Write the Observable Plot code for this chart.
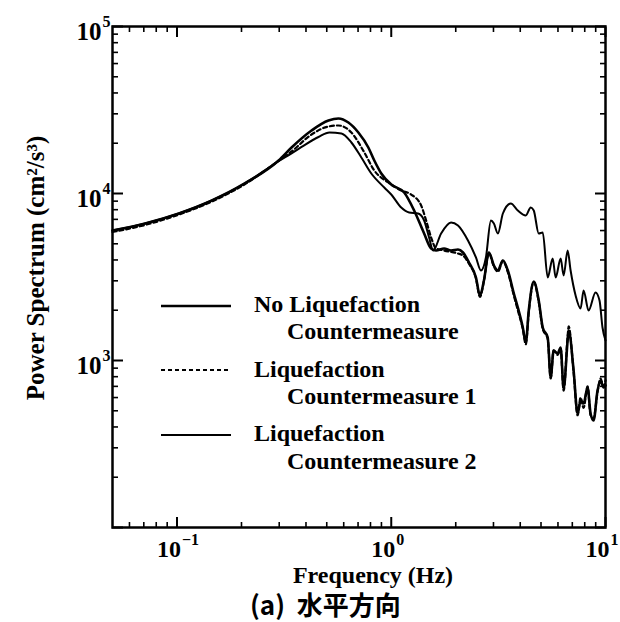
<!DOCTYPE html>
<html><head><meta charset="utf-8">
<script src="https://cdn.jsdelivr.net/npm/d3@7"></script>
<script src="https://cdn.jsdelivr.net/npm/@observablehq/plot@0.6"></script>
<style>
body{margin:0;background:#fff;}
#wrap{position:relative;width:620px;height:622px;overflow:hidden;}
.leg{position:absolute;font-family:"Liberation Serif","Times New Roman",serif;font-weight:bold;font-size:24px;line-height:24px;white-space:nowrap;color:#000;}
.sw{position:absolute;}
#cap{position:absolute;left:250px;top:591px;font-family:"Noto Sans CJK JP","Noto Sans",sans-serif;font-weight:bold;font-size:26px;line-height:26px;white-space:pre;color:#000;}
</style></head><body><div id="wrap"></div>
<script>
// ---- data ----
const seriesNames = ["No Liquefaction", "Liquefaction", "Liquefaction"];
const seriesNames2 = ["Countermeasure", "Countermeasure 1", "Countermeasure 2"];
const xTitle = "Frequency (Hz)";
const yTitle = "Power Spectrum (cm²/s³)";
const caption = "(a)  水平方向";

// No Liquefaction Countermeasure (thick solid)
const freqA = [0.05,0.071,0.102,0.1455,0.207,0.298,0.3426,0.4246,0.5093,0.5669,0.631,0.7023,0.7817,0.8335,0.8985,1.0,1.149,1.279,1.424,1.535,1.619,1.764,1.901,2.049,2.162,2.306,2.485,2.594,2.708,2.856,3.014,3.146,3.319,3.501,3.734,3.897,4.111,4.246,4.384,4.625,4.879,5.093,5.373,5.548,5.729,5.98,6.175,6.377,6.657,6.729,7.099,7.41,7.651,7.902,8.248,8.517,8.795,9.181,9.479,9.788,10];
const powA = [6000,6610,7590,9080,11480,15770,18860,23840,27360,28130,26610,23190,18860,15760,13180,11320,10140,7912,5761,4686,4558,4686,4558,4621,4433,3862,3141,2450,3013,4433,3706,3458,3970,3458,2519,2077,1576,1282,1993,2972,2287,1576,1373,791,1148,1101,1196,680,1318,1512,871,481,576,553,689,481,437,661,759,689,709];

// Liquefaction Countermeasure 1 (dashed)
const freqB = [0.05,0.071,0.102,0.1455,0.207,0.298,0.3426,0.4246,0.5093,0.5669,0.6516,0.7489,0.8335,0.9683,1.113,1.239,1.379,1.455,1.535,1.619,1.764,2.049,2.162,2.306,2.485,2.594,2.708,2.856,3.014,3.146,3.319,3.501,3.734,3.897,4.111,4.246,4.384,4.625,4.879,5.093,5.373,5.548,5.729,5.98,6.175,6.377,6.657,6.729,7.099,7.41,7.651,7.902,8.248,8.517,8.795,9.181,9.479,9.788,10];
const powB = [5880,6480,7480,8950,11350,15700,17850,22560,25190,25540,23190,17600,13730,11640,10420,9860,8475,6890,5450,4686,4558,4372,4253,3800,3100,2400,3000,4400,3650,3400,3950,3380,2450,2000,1550,1250,1950,2950,2250,1550,1350,780,1150,1080,1180,660,1400,1600,850,470,600,520,700,470,450,650,780,700,760];

// Liquefaction Countermeasure 2 (thin solid)
const freqC = [0.05,0.071,0.102,0.1455,0.207,0.298,0.3426,0.3814,0.4575,0.5148,0.5855,0.6516,0.7253,0.8071,0.9278,1.0,1.113,1.212,1.335,1.424,1.502,1.568,1.709,1.901,2.049,2.281,2.485,2.622,2.766,2.918,3.014,3.146,3.319,3.615,3.897,4.246,4.478,4.625,4.879,5.093,5.373,5.669,5.853,6.175,6.377,6.657,6.873,7.252,7.651,7.902,8.336,8.985,9.378,9.683,10];
const powC = [6000,6610,7590,9080,11480,15600,17400,19000,21800,23190,22870,20200,16430,13180,10860,9860,8246,7696,7590,6890,5450,4558,5761,6704,6433,5231,4139,3458,4139,6890,6610,5761,7590,8711,7912,7385,8246,7912,5761,5841,3141,4082,3141,4082,3228,4558,3458,2450,2048,2626,1993,2554,2287,1576,1318];

// ticks
const xMajor = [0.1, 1, 10];
const xExp = ["−1", "0", "1"];
const xMinor = [0.06,0.07,0.08,0.09,0.2,0.3,0.4,0.5,0.6,0.7,0.8,0.9,2,3,4,5,6,7,8,9];
const yMajor = [1e3, 1e4, 1e5];
const yExp = ["3", "4", "5"];
const yMajorAll = [1e2, 1e3, 1e4, 1e5];
const yMinor = [200,300,400,500,600,700,800,900,2000,3000,4000,5000,6000,7000,8000,9000,20000,30000,40000,50000,60000,70000,80000,90000];

const toRows = (fs, ps) => fs.map((f, i) => ({f, p: ps[i]}));
const dataA = toRows(freqA, powA), dataB = toRows(freqB, powB), dataC = toRows(freqC, powC);

const serif = "'Liberation Serif', 'Times New Roman', serif";
const noLab = () => "";

const chart = Plot.plot({
  width: 620, height: 588,
  marginLeft: 112, marginRight: 15, marginTop: 26, marginBottom: 61,
  style: {fontFamily: serif, background: "transparent", color: "black"},
  x: {type: "log", domain: [0.05, 10]},
  y: {type: "log", domain: [100, 1e5]},
  marks: [
    Plot.axisX(xMajor, {anchor: "bottom", tickSize: -10, tickFormat: noLab, strokeWidth: 2, label: null}),
    Plot.axisX(xMinor, {anchor: "bottom", tickSize: -5, tickFormat: noLab, strokeWidth: 1.6, label: null}),
    Plot.axisX(xMajor, {anchor: "top", tickSize: -10, tickFormat: noLab, strokeWidth: 2, label: null}),
    Plot.axisX(xMinor, {anchor: "top", tickSize: -5, tickFormat: noLab, strokeWidth: 1.6, label: null}),
    Plot.axisY(yMajorAll, {anchor: "left", tickSize: -11, tickFormat: noLab, strokeWidth: 2, label: null}),
    Plot.axisY(yMinor, {anchor: "left", tickSize: -6, tickFormat: noLab, strokeWidth: 1.6, label: null}),
    Plot.axisY(yMajorAll, {anchor: "right", tickSize: -11, tickFormat: noLab, strokeWidth: 2, label: null}),
    Plot.axisY(yMinor, {anchor: "right", tickSize: -6, tickFormat: noLab, strokeWidth: 1.6, label: null}),
    Plot.frame({stroke: "black", strokeWidth: 2.5}),
    Plot.line(dataC, {x: "f", y: "p", stroke: "black", strokeWidth: 2, curve: "monotone-x"}),
    Plot.line(dataB, {x: "f", y: "p", stroke: "black", strokeWidth: 2.2, strokeDasharray: "4,3", curve: "monotone-x"}),
    Plot.line(dataA, {x: "f", y: "p", stroke: "black", strokeWidth: 2.6, curve: "monotone-x"}),
    // x tick labels
    Plot.text(xMajor, {x: d => d, frameAnchor: "bottom", text: () => "10", dx: 4, dy: 22, textAnchor: "end", lineAnchor: "middle", fontSize: 24, fontWeight: "bold"}),
    Plot.text(xMajor, {x: d => d, frameAnchor: "bottom", text: (d, i) => xExp[i], dx: 5, dy: 12, textAnchor: "start", lineAnchor: "middle", fontSize: 16, fontWeight: "bold"}),
    // y tick labels
    Plot.text(yMajor, {y: d => d, frameAnchor: "left", text: () => "10", dx: -11, dy: 5, textAnchor: "end", lineAnchor: "middle", fontSize: 25, fontWeight: "bold"}),
    Plot.text(yMajor, {y: d => d, frameAnchor: "left", text: (d, i) => yExp[i], dx: -10, dy: -5, textAnchor: "start", lineAnchor: "middle", fontSize: 16, fontWeight: "bold"}),
    // axis titles
    Plot.text([xTitle], {frameAnchor: "bottom", text: d => d, dx: 14, dy: 48, textAnchor: "middle", lineAnchor: "middle", fontSize: 24, fontWeight: "bold"}),
    Plot.text([yTitle], {frameAnchor: "left", text: d => d, dx: -77, dy: -9, rotate: -90, textAnchor: "middle", lineAnchor: "middle", fontSize: 25, fontWeight: "bold"})
  ]
});

const wrap = document.getElementById("wrap");
wrap.appendChild(chart);

// legend inside the plot area
const legLineY = [306, 370, 435];
const legText1Y = [304, 369, 433];
const legText2Y = [331, 396, 461];
const legStyles = [{w: 2.6, dash: null}, {w: 2.2, dash: "4,3"}, {w: 2, dash: null}];
seriesNames.forEach((name, i) => {
  const sw = document.createElementNS("http://www.w3.org/2000/svg", "svg");
  sw.setAttribute("class", "sw");
  sw.setAttribute("width", 70); sw.setAttribute("height", 8);
  sw.style.left = "161px"; sw.style.top = (legLineY[i] - 4) + "px";
  const ln = document.createElementNS("http://www.w3.org/2000/svg", "line");
  ln.setAttribute("x1", 0); ln.setAttribute("x2", 70); ln.setAttribute("y1", 4); ln.setAttribute("y2", 4);
  ln.setAttribute("stroke", "black"); ln.setAttribute("stroke-width", legStyles[i].w);
  if (legStyles[i].dash) ln.setAttribute("stroke-dasharray", legStyles[i].dash);
  sw.appendChild(ln);
  wrap.appendChild(sw);
  const t1 = document.createElement("div");
  t1.className = "leg"; t1.textContent = name;
  t1.style.left = "254px"; t1.style.top = (legText1Y[i] - 12) + "px";
  wrap.appendChild(t1);
  const t2 = document.createElement("div");
  t2.className = "leg"; t2.textContent = seriesNames2[i];
  t2.style.left = "287px"; t2.style.top = (legText2Y[i] - 12) + "px";
  wrap.appendChild(t2);
});

const cap = document.createElement("div");
cap.id = "cap"; cap.textContent = caption;
wrap.appendChild(cap);
</script>
</body></html>
